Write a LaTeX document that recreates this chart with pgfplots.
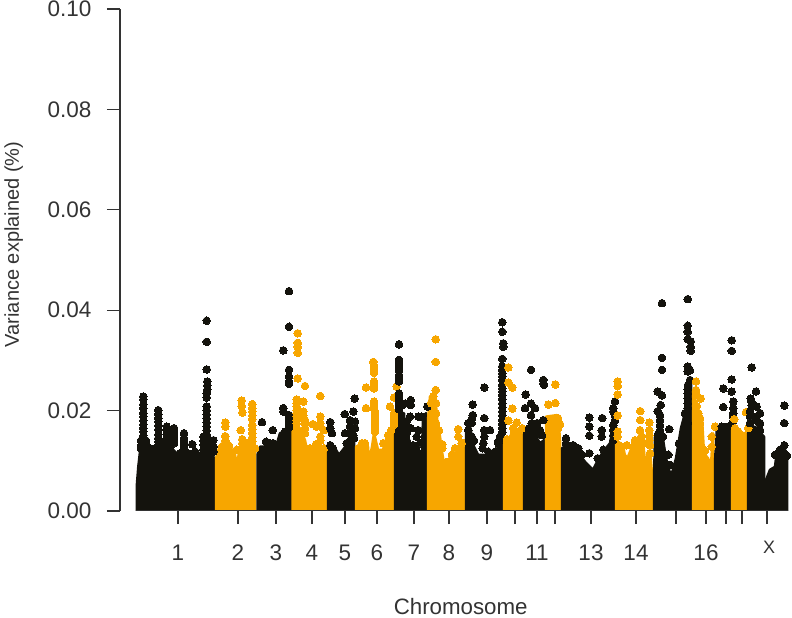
\documentclass[border=0pt]{standalone}
\usepackage{pgfplots}
\pgfplotsset{compat=1.18}
\usepackage{fontspec}
\setmainfont{Liberation Sans}
\definecolor{blk}{HTML}{14130D}
\definecolor{org}{HTML}{F7A600}
\definecolor{txt}{HTML}{333333}
\pgfplotsset{
 bk/.style={draw=blk,fill=blk,line width=2.5pt,line join=round},
 og/.style={draw=org,fill=org,line width=2.5pt,line join=round},
 mb/.style={only marks,mark=*,mark size=3.8pt,color=blk,mark options={draw=blk,fill=blk,line width=0pt}},
 mo/.style={only marks,mark=*,mark size=3.8pt,color=org,mark options={draw=org,fill=org,line width=0pt}},
}
\begin{document}
\begin{tikzpicture}[x=1pt,y=1pt]
\path[use as bounding box] (0,0) rectangle (792,618);
\begin{axis}[
 at={(120pt,107pt)},anchor=south west,
 scale only axis,width=672pt,height=502pt,
 xmin=120,xmax=792,ymin=0,ymax=0.1,
 axis x line*=bottom,axis y line*=left,
 x axis line style={draw=none,-},y axis line style={draw=txt,line width=1.3pt,-},
 tick align=outside,
 major tick length=13pt,
 tick style={draw=txt,line width=1.2pt},
 ytick={0,0.02,0.04,0.06,0.08,0.10},
 xtick={178,238,276,312,345,377,414,449,487,515,537,555,591,636,676,706,726,742,767},
 xticklabels={1,2,3,4,5,6,7,8,9,,11,,13,14,,16,,,{\hspace{4pt}\raisebox{6.5pt}[15.7pt][0pt]{\fontsize{18}{18}\selectfont X}}},
 /pgf/number format/assume math mode=true,
 /pgf/number format/fixed,/pgf/number format/fixed zerofill,/pgf/number format/precision=2,
 tick label style={font=\fontsize{22.5}{24}\selectfont,text=txt},
 yticklabel style={xshift=-12pt},
 xticklabel style={yshift=-17pt},
 xlabel={Chromosome},ylabel={Variance explained (\%)},
 xlabel style={font=\fontsize{22.3}{24}\selectfont,text=txt,at={(axis description cs:0.507,-0.191)},anchor=center},
 ylabel style={font=\fontsize{20}{22}\selectfont,text=txt,at={(axis description cs:-0.158,0.531)},anchor=center},
]
% chr 1
\addplot[bk] coordinates {(137,0)(137,.0055)(138.3,.0088)(140,.0118)(150,.0122)(160,.0128)(170,.0128)(178,.0112)(187,.0112)(198,.0118)(202,.0102)(205,.0148)(210,.0128)(213.5,.0108)(213.5,0)};
\addplot[mb] coordinates {(143.3,.0228)(143.3,.0222)(143.3,.0212)(143.3,.0205)(143.3,.0195)(143.3,.0188)(143.3,.018)(143.3,.0172)(143.3,.0165)(143.3,.0158)(143.3,.015)(143.3,.0142)(143.3,.0135)(141,.014)(141,.013)(141,.0125)(146,.014)(146,.0132)(146,.0128)(150,.0125)(155,.0125)
(158.3,.0201)(158.3,.0193)(158.3,.0185)(158.3,.0178)(158.3,.017)(158.3,.0162)(158.3,.0152)(158.3,.0145)(158.3,.0138)(163,.0135)(168,.0135)(166.7,.0168)(166.7,.016)(166.7,.0152)(166.7,.0145)(174,.0165)(174,.0157)(174,.015)(174,.0142)(174,.0135)(170,.0128)(165,.0125)
(184,.0155)(184,.0145)(184,.0138)(184,.013)(184,.0122)(192.3,.0133)(180,.0115)(188,.0115)(195,.0118)(200,.011)
(206.7,.0379)(206.7,.0337)(206.7,.0282)(207.3,.0258)(207.3,.025)(207.3,.0242)(206.7,.0234)(206.7,.0226)(206.7,.0208)(206.7,.02)(206.7,.0192)(206.7,.0184)(206.7,.0176)(206.7,.0168)(206.7,.016)(206.7,.0152)(206.7,.0144)(203.5,.0148)(203.5,.014)(203.5,.0132)(203.5,.0122)(210,.0141)(210,.0135)(210,.0125)(213.5,.0141)(213.5,.0128)(213.5,.0118)};
% chr 2
\addplot[og] coordinates {(216,0)(216,.0105)(220,.0131)(226,.0141)(232,.0122)(235,.0112)(237,.0092)(240,.0128)(247,.0135)(255,.0125)(255,0)};
\addplot[mo] coordinates {(225.3,.0176)(225.3,.0168)(225.3,.0149)(225.3,.014)(225.3,.0131)(222,.0128)(229,.013)(241.7,.0220)(241.7,.0209)(242.3,.0196)(240.7,.0161)(242.3,.0143)(242.3,.0135)(236.7,.0122)(248.3,.0135)
(252.3,.0213)(252.3,.0205)(252.3,.0198)(252.3,.019)(252.3,.0183)(252.3,.0171)(252.3,.0163)(252.3,.0155)(252.3,.0147)(252.3,.0139)(252.3,.0131)(255,.0125)};
% chr 3
\addplot[bk] coordinates {(257.5,0)(257.5,.0112)(260,.0128)(276,.0128)(280,.0155)(287,.0161)(291,.0195)(291,0)};
\addplot[mb] coordinates {(262,.0177)(272.7,.0161)(266,.0138)(273.3,.0135)(270,.0135)(283.3,.0205)(283.3,.0198)(283.3,.0320)(289,.0438)(289,.0367)(289,.0281)(289,.0268)(289,.0258)(289,.0253)(289,.0191)(289,.0183)(289,.0175)(289,.0167)(285,.0158)};
% chr 4
\addplot[og] coordinates {(292.5,0)(292.5,.0168)(300,.0165)(305,.0141)(308,.0112)(312,.0128)(320,.0131)(326,.0115)(326,0)};
\addplot[mo] coordinates {(297.7,.0354)(297.7,.0335)(297.7,.0327)(297.7,.0315)(297.7,.0264)(305,.0249)(320.3,.0229)(296.7,.0222)(296.7,.0215)(303.3,.0218)(296.7,.0208)(296.7,.02)(296.7,.0195)(296.7,.0188)(296.7,.0181)(296.7,.0174)(303.3,.0198)(303.3,.019)(305,.0181)(305,.0175)(305,.0165)(305,.0155)(312.7,.0173)(316.7,.0168)(320.3,.0188)(320.3,.0175)(320.3,.0168)(320.3,.0148)(320.3,.014)(324,.0161)(316,.0133)(324,.0125)(310,.0125)};
% chr 5
\addplot[bk] coordinates {(328,0)(328,.0122)(334,.0128)(339,.0112)(343,.0122)(350,.0141)(354,.0141)(354,0)};
\addplot[mb] coordinates {(330.3,.0177)(330.3,.0165)(332,.0155)(330.3,.0131)(333,.0125)(354.7,.0224)(344.7,.0193)(353.3,.0198)(350,.0181)(355,.0178)(350,.0168)(355,.0165)(350,.0155)(345,.0155)(353.3,.0151)(346.7,.0135)(350,.014)(354,.0145)};
% chr 6
\addplot[og] coordinates {(356,0)(356,.0128)(362,.0135)(368,.0128)(369,.0098)(372,.0128)(374,.0155)(378,.0122)(383,.0122)(387,.0148)(393,.0168)(393,0)};
\addplot[mo] coordinates {(373.3,.0297)(374,.029)(374,.0282)(374,.0275)(374,.0258)(374,.0251)(374,.0244)(366,.0246)(366,.0205)(374,.0218)(374,.0211)(374,.0205)(375,.0198)(375,.0191)(375,.0183)(375,.0175)(375,.0167)(375,.0158)(390,.0208)(394,.0226)(396.7,.0248)(394,.0195)(394,.0188)(394,.0181)(394,.0172)(365,.0135)(362,.0135)(383.3,.0135)(388.3,.0151)(391,.016)};
% chr 7
\addplot[bk] coordinates {(395,0)(395,.0168)(397,.0195)(404,.0195)(406,.0125)(422,.0118)(423,.0185)(426,.0195)(426,0)};
\addplot[mb] coordinates {(399,.0332)(399,.0301)(399,.0294)(399,.0286)(399,.0279)(399,.0271)(399,.0264)(399,.0258)(399,.0234)(399,.0226)(399,.0218)(399,.021)(399,.0203)(402,.021)(405,.0214)(410.7,.0221)(410.7,.0211)(410,.0188)(418.3,.0188)(410.7,.0165)(416.7,.0148)(427.3,.0208)(421.7,.0188)(406.7,.0178)(406.7,.0141)(413.3,.0131)(420,.0135)(418.3,.0161)(406.7,.0155)(403.3,.0141)(404,.0168)(410,.0128)(416,.0125)};
% chr 8
\addplot[og] coordinates {(428,0)(428,.0181)(430,.0228)(435,.0235)(437.5,.0175)(440,.0148)(442,.0118)(445,.0082)(450,.0108)(456,.0115)(460,.0135)(464,.0141)(464,0)};
\addplot[mo] coordinates {(435.7,.0342)(435.7,.0297)(435.7,.0241)(433.3,.0228)(431,.0215)(436,.0215)(436,.0195)(436,.0175)(439,.016)(442.3,.0133)(442.3,.0125)(447,.0098)(455,.0125)(458.3,.0163)(458.3,.0148)(461.7,.0135)(452,.0112)};
% chr 9
\addplot[bk] coordinates {(466,0)(466,.0161)(470,.0168)(474,.0128)(478,.0112)(490,.0112)(495,.0112)(499,.0135)(502,.0168)(502,0)};
\addplot[mb] coordinates {(472.7,.0212)(472.7,.0191)(471.7,.0183)(471.7,.0175)(468.3,.0175)(468.3,.0161)(471.7,.0148)(474,.014)(484.3,.0246)(484.3,.0185)(484.3,.0161)(490,.0161)(484.3,.0148)(483.3,.0135)(482.7,.0125)(488.3,.0118)(495,.0118)(498.3,.0135)(502.3,.0376)(502.3,.0357)(503.3,.0334)(503.3,.0327)(502.3,.0303)(502.3,.0288)(502.3,.0281)(502.3,.0274)(502.3,.0268)(502.3,.0261)(502.3,.0251)(502.3,.0244)(502.3,.0238)(502.3,.0231)(502.3,.0223)(502.3,.0214)(502.3,.0206)(502.3,.0198)(502.3,.019)(502.3,.0181)(502.3,.0173)(502.3,.0165)(502.3,.0157)(500,.0148)(498,.0138)};
% chr 10
\addplot[og] coordinates {(504,0)(504,.0135)(508,.0141)(515,.0145)(522,.0155)(522,0)};
\addplot[mo] coordinates {(508.3,.0286)(508.3,.0256)(512.3,.0246)(512.3,.0204)(508.3,.0180)(516.7,.0176)(522.3,.0165)(513.3,.0165)(513.3,.0151)(518.3,.0155)(507,.0143)};
% chr 11
\addplot[bk] coordinates {(524,0)(524,.0155)(530,.0165)(537,.0145)(540,.0135)(544,.0141)(544,0)};
\addplot[mb] coordinates {(531,.0281)(525.7,.0232)(531,.0214)(525,.0205)(535,.0205)(531,.0191)(537.3,.0175)(531.7,.0175)(534,.0168)(529,.0165)(543.3,.0261)(543.3,.0254)(544,.0251)(543.3,.0181)(540,.0161)(542,.0151)(535,.0155)};
% chr 12
\addplot[og] coordinates {(546,0)(546,.0188)(557,.0191)(559.5,.0155)(560,.0141)(560,0)};
\addplot[mo] coordinates {(555.3,.0252)(548.3,.0212)(555.3,.0215)(560,.0173)(556.7,.0178)(558,.0185)(558,.0165)};
% chr 13
\addplot[bk] coordinates {(562,0)(562,.0125)(567,.0131)(575,.0125)(585,.0098)(590,.0088)(593,.0082)(597,.0098)(603,.0118)(610,.0135)(614,.0175)(614,0)};
\addplot[mb] coordinates {(566,.0145)(566,.0135)(573.3,.0131)(578.3,.0125)(582,.0112)(589.3,.0186)(589.3,.0168)(589.3,.0150)(589.3,.0115)(602.3,.0185)(601.7,.0161)(601.7,.0148)(603.3,.0122)(597.7,.0105)(608,.0118)(613.3,.0205)(615,.0218)(613.3,.0198)(615,.019)(615,.0181)(613.3,.0171)(613.3,.0161)(613.3,.0151)(613.3,.0141)(610,.0125)};
% chr 14
\addplot[og] coordinates {(616,0)(616,.0141)(623,.0131)(626,.0098)(632,.0128)(637,.0141)(642,.0161)(645,.0098)(650,.0122)(652,.0075)(652,0)};
\addplot[mo] coordinates {(617.7,.0258)(617.7,.0249)(617.7,.0232)(617.7,.0190)(617.7,.0158)(617.7,.0148)(640.3,.0199)(640.3,.0181)(649.3,.0176)(640,.0161)(635,.0141)(649.3,.0161)(649.3,.0151)(649.3,.0141)(650,.0131)(650,.0115)(626.7,.0131)(621.7,.0128)(633.3,.0128)(641.7,.0148)(643,.0135)(623.3,.0108)};
% chr 15
\addplot[bk] coordinates {(654,0)(654,.0062)(655,.0148)(662,.0155)(666,.0105)(671,.0068)(676,.0105)(681,.0165)(685,.0195)(691,.0265)(691,0)};
\addplot[mb] coordinates {(662,.0414)(662,.0305)(662,.0281)(657.7,.0238)(662,.0230)(660.7,.0211)(657.7,.0199)(669.3,.0163)(660,.0191)(660,.0181)(660,.0171)(660,.0161)(658,.0153)(663,.0148)(668.3,.0112)(670,.0092)(679,.0135)(687.7,.0422)(687.7,.0369)(687.7,.0357)(687.7,.0342)(690.7,.0338)(690.7,.0327)(690.7,.0319)(687.7,.0288)(687.7,.0278)(690,.0280)(690,.0261)(688,.0251)(687.7,.0243)(687.7,.0234)(687.7,.0224)(687.7,.0214)(687.7,.0205)(685,.0195)(687.7,.0175)(685,.0165)(685,.0155)};
% chr 16
\addplot[og] coordinates {(693,0)(693,.0241)(697,.0208)(702,.0185)(704,.0115)(708,.0105)(711,.0092)(713,.0155)(713,0)};
\addplot[mo] coordinates {(696,.0258)(696,.0241)(696.7,.0231)(700.7,.0224)(696.7,.0209)(698.3,.0195)(700,.0185)(700,.0175)(700,.0162)(700,.0148)(701.7,.0128)(715,.0168)(711.7,.0148)(711.7,.0128)(705,.012)};
% chr 17
\addplot[bk] coordinates {(715,0)(715,.0098)(717,.0168)(730,.0168)(730,0)};
\addplot[mb] coordinates {(731.7,.0340)(731.7,.0319)(731.7,.0262)(723.3,.0244)(731.7,.0238)(723.3,.0207)(733.3,.0218)(733.3,.0205)(733.3,.0195)(721.7,.0168)(728.3,.0168)(733,.0188)(733,.0178)};
% chr 18
\addplot[og] coordinates {(732,0)(732,.0165)(738,.0155)(746,.0155)(746,0)};
\addplot[mo] coordinates {(734.3,.0183)(735,.0165)(738.3,.0158)(746,.0197)(748.3,.0165)};
% chr 19
\addplot[bk] coordinates {(748,0)(748,.0161)(755,.0168)(764,.0148)(764,0)};
\addplot[mb] coordinates {(751.7,.0286)(756,.0238)(750.7,.0224)(751.7,.0217)(751.7,.0211)(756.7,.0208)(760,.0195)(750,.0198)(750,.0188)(756.7,.0188)(756.7,.018)(760,.0175)(760,.0161)(750,.0175)};
% chr X
\addplot[bk] coordinates {(766,0)(766,.0062)(770,.0082)(775,.0088)(776,.0105)(782,.0128)(787,.0105)(787,0)};
\addplot[mb] coordinates {(784.3,.0210)(784.3,.0175)(784.3,.0131)(780,.0122)(775,.0112)(783.3,.0118)(787,.011)};
% x axis line
\addplot[draw=txt,line width=2pt] coordinates {(136,0)(788,0)};
\end{axis}
\end{tikzpicture}
\end{document}
